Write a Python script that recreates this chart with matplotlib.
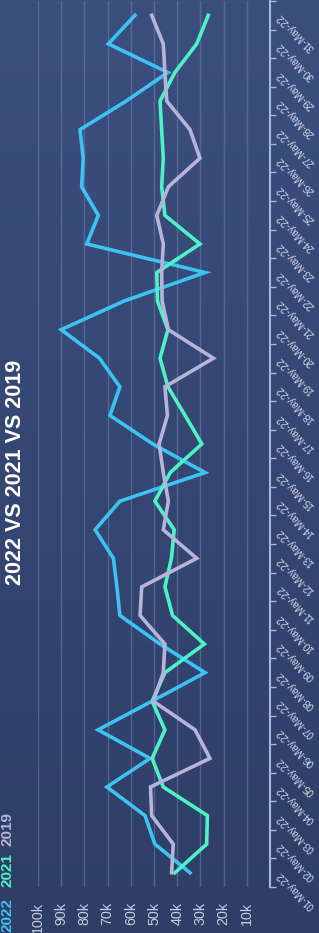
import numpy as np
import matplotlib
matplotlib.use("Agg")
import matplotlib.pyplot as plt
from matplotlib.colors import LinearSegmentedColormap

# ---------------- data ----------------
dates = [f"{d:02d}-May-22" for d in range(1, 32)]
s2022 = [34.5, 49.6, 53.9, 70.3, 51.7, 74.1, 50.9, 28.0, 47.4, 64.7, 66.0, 67.5, 75.4, 64.7, 28.0,
         50.5, 69.0, 64.7, 73.5, 90.0, 63.0, 28.0, 79.0, 74.0, 81.2, 80.5, 81.9, 62.0, 44.0, 69.7, 58.2]
s2021 = [41.0, 27.3, 27.0, 46.0, 50.8, 45.3, 50.8, 45.3, 28.3, 42.0, 45.3, 42.5, 41.3, 49.6, 43.0,
         29.4, 36.6, 44.0, 47.4, 44.0, 48.5, 48.8, 30.2, 45.3, 46.7, 46.0, 46.7, 47.4, 41.0, 31.6, 26.6]
s2019 = [42.4, 41.7, 51.0, 51.5, 25.9, 32.3, 50.3, 46.0, 45.3, 56.0, 55.3, 31.6, 46.0, 43.8, 46.0,
         47.8, 44.2, 45.3, 24.4, 43.8, 46.5, 46.7, 46.0, 48.8, 43.8, 30.2, 34.5, 44.5, 45.3, 46.0, 51.0]
series_names = ["2022", "2021", "2019"]
value_ticks = [10, 20, 30, 40, 50, 60, 70, 80, 90, 100]
value_tick_labels = [f"{v}k" for v in value_ticks]
title = "2022 VS 2021 VS 2019"

colors = ["#3cc3f2", "#4df2c6", "#b7b4da"]
FONT = "Liberation Sans"

W, H = 319, 933
fig = plt.figure(figsize=(W / 100, H / 100), dpi=100)

# background gradient
bg = fig.add_axes([0, 0, 1, 1], zorder=-10)
cmap = LinearSegmentedColormap.from_list("bg", ["#3b4f7f", "#2e3e66"])
grad = np.linspace(0, 1, 256).reshape(-1, 1)
bg.imshow(grad, aspect="auto", cmap=cmap, extent=[0, 1, 0, 1], origin="upper")
bg.set_axis_off()

# main axes (rotated chart: values horizontal, dates vertical)
ax = fig.add_axes([38 / W, 46 / H, 232 / W, 886 / H])
ax.patch.set_alpha(0)

ys = np.arange(len(dates))
for vals, c in zip([s2022, s2021, s2019], colors):
    ax.plot(np.array(vals) * 1000, ys, color=c, lw=2.6, solid_joinstyle="miter", zorder=3)

ax.set_xlim(100000, 0)
ax.set_ylim(-0.5, len(dates) - 0.5)

ax.set_xticks([v * 1000 for v in value_ticks])
ax.set_xticklabels(value_tick_labels, rotation=90, fontsize=10.3, color="#c9cee2",
                   family=FONT)
ax.tick_params(axis="x", length=0, pad=11)
ax.grid(axis="x", color="#7d8cbc", alpha=0.45, lw=1)

ax.yaxis.tick_right()
ax.set_yticks(ys)
ax.set_yticklabels(dates, fontsize=7.4, color="#d3d8ea", family=FONT)
ax.set_yticks(np.arange(-0.5, len(dates), 1.0), minor=True)
ax.tick_params(axis="y", which="major", length=0, pad=6)
ax.tick_params(axis="y", which="minor", length=4, width=1, color="#a9b5e0", direction="out")
for lab in ax.get_yticklabels():
    lab.set_rotation(135)
    lab.set_rotation_mode("anchor")
    lab.set_ha("right")
    lab.set_va("center")

for s in ["left", "top", "bottom"]:
    ax.spines[s].set_visible(False)
ax.spines["right"].set_color("#a9b5e0")
ax.spines["right"].set_linewidth(1.5)

# title
fig.text(16 / W, 1 - 472 / H, title, rotation=90, ha="center", va="center",
         fontsize=15.5, fontweight="bold", color="white", family=FONT)

# legend (colored text)
leg_y = [932, 887, 846]
for name, c, y0 in zip(series_names, colors, leg_y):
    fig.text(8 / W, 1 - y0 / H, name, rotation=90, ha="center", va="bottom",
             fontsize=11, fontweight="bold", color=c, family=FONT)

fig.savefig("out.png", dpi=100)
